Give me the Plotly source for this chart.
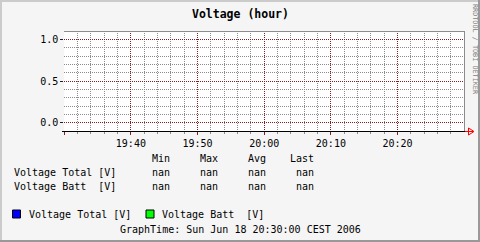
import plotly.graph_objects as go
from datetime import datetime, timedelta

W, H = 480, 242
NAN = float("nan")

# ---- data ----
times = ["2006-06-18 19:30:00", "2006-06-18 19:40:00", "2006-06-18 19:50:00",
         "2006-06-18 20:00:00", "2006-06-18 20:10:00", "2006-06-18 20:20:00",
         "2006-06-18 20:30:00"]
voltage_total = [NAN, NAN, NAN, NAN, NAN, NAN, NAN]
voltage_batt = [NAN, NAN, NAN, NAN, NAN, NAN, NAN]
series_names = ["Voltage Total [V]", "Voltage Batt\u00a0\u00a0[V]"]
series_colors = ["#0000FF", "#00FF00"]
stat_headers = ["Min", "Max", "Avg", "Last"]
stats_total = ["nan", "nan", "nan", "nan"]
stats_batt = ["nan", "nan", "nan", "nan"]
x_tickvals = ["2006-06-18 19:30:00", "2006-06-18 19:40:00", "2006-06-18 19:50:00",
              "2006-06-18 20:00:00", "2006-06-18 20:10:00", "2006-06-18 20:20:00"]
x_ticktext = ["", "19:40", "19:50", "20:00", "20:10", "20:20"]
y_tickvals = [0.0, 0.5, 1.0]
y_ticktext = ["0.0", "0.5", "1.0"]
title = "Voltage (hour)"
graph_time = "GraphTime: Sun Jun 18 20:30:00 CEST 2006"
watermark = "RRDTOOL / TOBI OETIKER"

MONO = "DejaVu Sans Mono"
MAJ = "#821E1E"
MIN = "#8C8C8C"

# minor grid positions (every 2 min / every 0.1), skipping the major ones
t0 = datetime(2006, 6, 18, 19, 30)
x_minor = [(t0 + timedelta(minutes=m)).strftime("%Y-%m-%d %H:%M:%S")
           for m in range(0, 61, 2) if m % 10 != 0]
y_minor = [round(-0.1 + 0.1 * i, 1) for i in range(13)]
y_minor = [v for v in y_minor if v not in y_tickvals]

def px(x):
    return x / W

def py(y):
    return 1 - y / H

PL, PR, PT, PB = 64.2, 464.2, 31.2, 131.2

fig = go.Figure()
for name, vals, col in zip(series_names, [voltage_total, voltage_batt], series_colors):
    fig.add_trace(go.Scatter(x=times, y=vals, mode="lines", name=name,
                             line=dict(color=col, width=1), showlegend=False))

fig.update_layout(
    width=W, height=H, margin=dict(l=0, r=0, t=0, b=0),
    paper_bgcolor="#F5F5F5", plot_bgcolor="#FFFFFF",
    xaxis=dict(
        domain=[px(PL), px(PR)], type="date",
        range=["2006-06-18 19:30:00", "2006-06-18 20:30:00"],
        tickmode="array", tickvals=x_tickvals, ticktext=x_ticktext,
        showgrid=True, gridcolor=MAJ, griddash="1px,1px", gridwidth=1,
        ticks="outside", ticklen=3, tickcolor=MAJ,
        minor=dict(tickmode="array", tickvals=x_minor, showgrid=True,
                   gridcolor=MIN, griddash="1px,1px", gridwidth=1,
                   ticks="outside", ticklen=2, tickcolor=MIN),
        zeroline=False, showline=False,
        tickfont=dict(family=MONO, size=10, color="#000000"),
        fixedrange=True,
    ),
    yaxis=dict(
        domain=[py(PB), py(PT)], range=[-0.1, 1.1],
        tickmode="array", tickvals=y_tickvals, ticktext=y_ticktext,
        showgrid=True, gridcolor=MAJ, griddash="1px,1px", gridwidth=1,
        ticks="outside", ticklen=3, tickcolor="#202020",
        minor=dict(tickmode="array", tickvals=y_minor, showgrid=True,
                   gridcolor=MIN, griddash="1px,1px", gridwidth=1),
        zeroline=False, showline=False,
        tickfont=dict(family=MONO, size=10, color="#000000"),
        fixedrange=True,
    ),
)

shapes = []
# 3D frame
shapes.append(dict(type="rect", xref="paper", yref="paper", x0=0, x1=px(2), y0=0, y1=1,
                   fillcolor="#CBCBCB", line=dict(width=0), layer="above"))
shapes.append(dict(type="rect", xref="paper", yref="paper", x0=0, x1=1, y0=py(2), y1=1,
                   fillcolor="#CBCBCB", line=dict(width=0), layer="above"))
shapes.append(dict(type="rect", xref="paper", yref="paper", x0=px(478), x1=1, y0=0, y1=1,
                   fillcolor="#999999", line=dict(width=0), layer="above"))
shapes.append(dict(type="rect", xref="paper", yref="paper", x0=0, x1=1, y0=0, y1=py(240),
                   fillcolor="#999999", line=dict(width=0), layer="above"))
# top and right plot edges
shapes.append(dict(type="line", xref="paper", yref="paper", x0=px(64), x1=px(465),
                   y0=py(31.5), y1=py(31.5), line=dict(color="#8C8C8C", width=1)))
shapes.append(dict(type="line", xref="paper", yref="paper", x0=px(464.5), x1=px(464.5),
                   y0=py(31.5), y1=py(131), line=dict(color="#8C8C8C", width=1)))
# x axis line with arrow
shapes.append(dict(type="line", xref="paper", yref="paper", x0=px(62), x1=px(468),
                   y0=py(131.5), y1=py(131.5), line=dict(color="#000000", width=1)))
shapes.append(dict(type="path", xref="paper", yref="paper",
                   path=f"M {px(468.5)},{py(128)} L {px(468.5)},{py(135)} L {px(474)},{py(131.5)} Z",
                   line=dict(color="#FF0000", width=1), fillcolor="rgba(0,0,0,0)"))
shapes.append(dict(type="line", xref="paper", yref="paper", x0=px(465), x1=px(473),
                   y0=py(131.5), y1=py(131.5), line=dict(color="#FF0000", width=1)))

# legend swatches
sw_x = [12.5, 146]
for sx, col in zip(sw_x, series_colors):
    shapes.append(dict(type="rect", xref="paper", yref="paper",
                       x0=px(sx), x1=px(sx + 8), y0=py(218), y1=py(210),
                       fillcolor=col, line=dict(color="#000000", width=1)))
fig.update_layout(shapes=shapes)

ann = []
def txt(s, x, y, xanchor="left", size=10, color="#000000", weight="normal", angle=0):
    ann.append(dict(text=s, x=px(x), y=py(y), xref="paper", yref="paper",
                    xanchor=xanchor, yanchor="middle", showarrow=False,
                    textangle=angle,
                    font=dict(family=MONO, size=size, color=color, weight=weight)))

txt(title, 240, 14, xanchor="center", size=11.5, weight="bold")
txt(watermark, 475, 49, xanchor="center", size=6.8, color="#808080", angle=90)

col_x = [150, 198, 246, 288]
val_x = [150, 198, 246, 294]
for h, cx in zip(stat_headers, col_x):
    txt(h, cx, 158.5)
for name, stats, ry in zip(series_names, [stats_total, stats_batt], [172.7, 186.3]):
    txt(name, 12, ry)
    for v, cx in zip(stats, val_x):
        txt(v, cx, ry)

leg_text_x = [26.5, 159.5]
for name, lx in zip(series_names, leg_text_x):
    txt(name, lx, 214.5)
txt(graph_time, 240.5, 229.3, xanchor="center")

fig.update_layout(annotations=ann)
fig.write_html("out.html")
